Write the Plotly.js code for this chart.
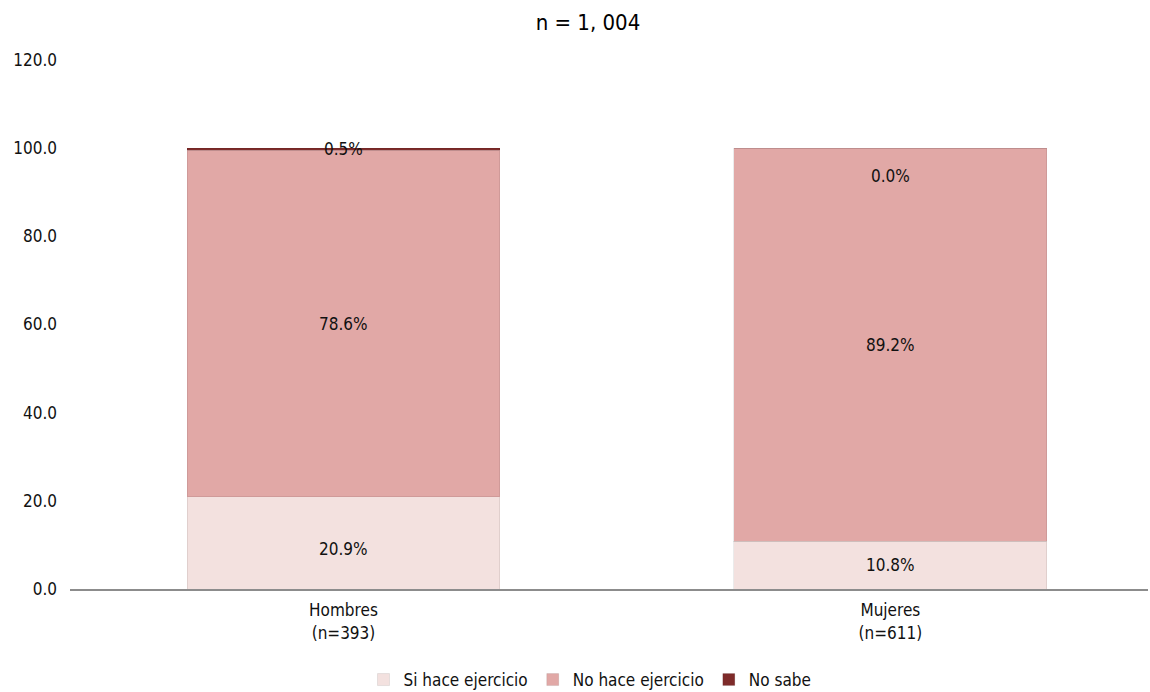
<!DOCTYPE html>
<html><head><meta charset="utf-8">
<script src="https://cdn.plot.ly/plotly-3.0.1.min.js"></script>
<style>body{margin:0;background:#fff}#c{width:1150px;height:692px}</style>
</head><body><div id="c"></div>
<script>
const categories = ['Hombres<br>(n=393)', 'Mujeres<br>(n=611)'];
const seriesNames = ['Si hace ejercicio', 'No hace ejercicio', 'No sabe'];
const siHace = [20.9, 10.8];
const noHace = [78.6, 89.2];
const noSabe = [0.5, 0.0];
const colors = ['#F3E1DF', '#E1A8A6', '#7E2B2A'];
const FONT = '"Liberation Sans Narrow", "DejaVu Sans Condensed", Arial Narrow, sans-serif';

const series = [siHace, noHace, noSabe];
const traces = series.map((vals, i) => ({
  type: 'bar', x: categories, y: vals, name: seriesNames[i],
  marker: {color: colors[i], line: {color: 'rgba(0,0,0,0.08)', width: 1}},
  hoverinfo: 'skip'
}));

const annotations = [];
categories.forEach((c, ci) => {
  let base = 0;
  series.forEach((vals, si) => {
    const v = vals[ci];
    annotations.push({
      x: c, y: base + v / 2, xref: 'x', yref: 'y',
      text: v.toFixed(1) + '%', showarrow: false,
      yshift: v === 0 ? -28 : (si === 0 && ci === 0 ? -6 : 0),
      font: {family: FONT, size: 17, color: '#111'}
    });
    base += v;
  });
});

const layout = {
  width: 1150, height: 692,
  margin: {l: 70, r: 2, t: 60, b: 103},
  paper_bgcolor: '#fff', plot_bgcolor: '#fff',
  barmode: 'stack', bargap: 0.428,
  title: {text: 'n = 1, 004', x: 588/1150, xref: 'container', xanchor: 'center',
          y: 1 - 22/692, yref: 'container', yanchor: 'middle',
          font: {family: FONT, size: 22, color: '#000'}},
  xaxis: {range: [-0.5, 1.471], showline: true, linecolor: '#8c8c8c', linewidth: 2,
          ticks: '', ticklabelstandoff: 5, tickfont: {family: FONT, size: 17, color: '#111'}, fixedrange: true},
  yaxis: {range: [0, 120], dtick: 20, tickformat: '.1f', showgrid: false, zeroline: false,
          showline: false, ticks: '', ticklen: 0, ticklabelstandoff: 12,
          tickfont: {family: FONT, size: 17, color: '#111'}},
  legend: {orientation: 'h', xref: 'container', yref: 'container', x: 590/1150, xanchor: 'center',
           y: 12/692, yanchor: 'middle', font: {family: FONT, size: 17, color: '#111'},
           itemwidth: 30, traceorder: 'normal'},
  annotations: annotations,
  showlegend: true
};
Plotly.newPlot('c', traces, layout, {displayModeBar: false, staticPlot: true});
</script></body></html>
